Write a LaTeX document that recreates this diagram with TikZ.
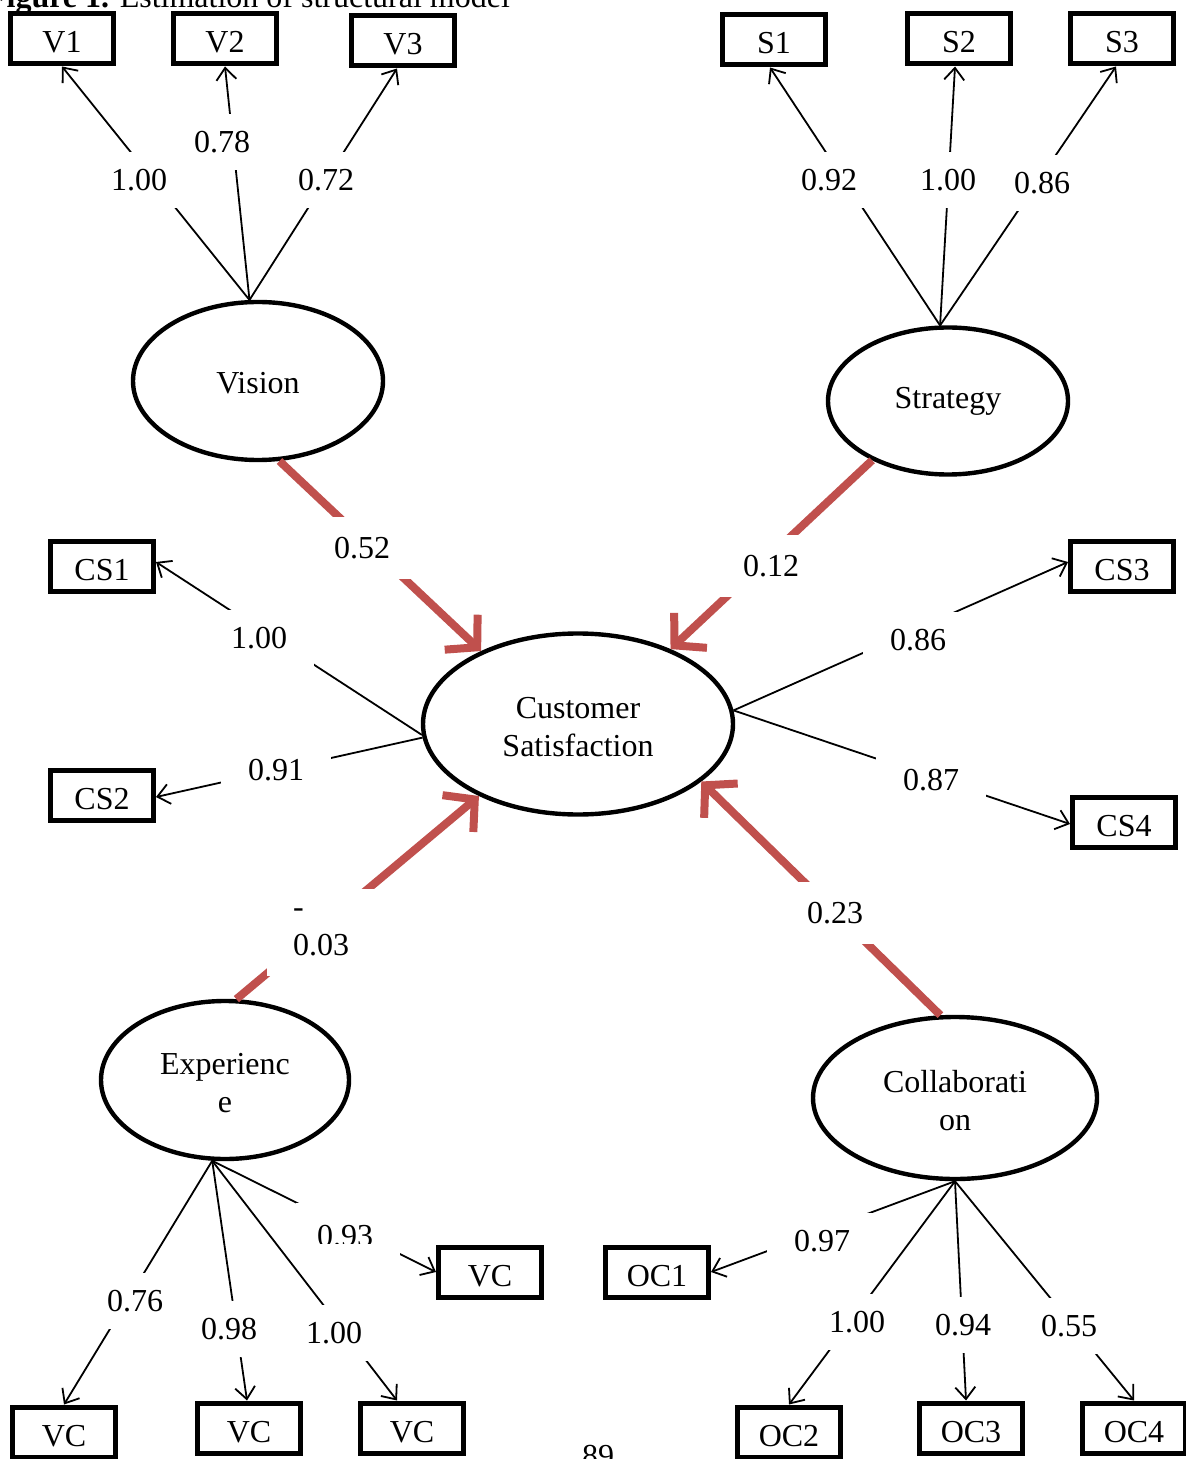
\documentclass[tikz,border=0pt]{standalone}
\usepackage{fontspec}
\setmainfont{Liberation Serif}
\usetikzlibrary{arrows.meta,shapes.geometric}
\definecolor{redarr}{RGB}{192,80,77}
\begin{document}
\begin{tikzpicture}[x=0.5pt,y=-0.5pt,font=\fontsize{16}{19}\selectfont]
\tikzset{
 obs/.style={draw, line width=2.5pt, minimum width=51.5pt, minimum height=25pt, inner sep=0pt, text depth=0pt, text height=14pt},
 lat/.style={draw, ellipse, line width=2.2pt, inner sep=0pt, align=center},
 ld/.style={line width=0.9pt, -{Straight Barb[length=6pt,width=10pt]}},
 rarrow/.style={draw=redarr, line width=4pt, -{Straight Barb[length=11pt,width=24pt]}},
 lbl/.style={fill=white, inner sep=0pt, minimum width=55pt, minimum height=28pt},
 rlbl/.style={lbl, minimum height=31pt},
}
\useasboundingbox (0,0) rectangle (1186,1459);
\clip (0,0) rectangle (1186,1459);

% title and page number (cut by the page edges)
\node[anchor=base east] (title) at (517,8) {\textbf{Figure 1.} Estimation of structural model};
\node[anchor=base] (pg) at (598,1466) {89};

% latent variables
\node[lat, minimum width=125pt, minimum height=79pt] (vis) at (258,381) {};
\node (tvis) at (258,383) {Vision};
\node[lat, minimum width=120pt, minimum height=73.5pt] (str) at (948,401) {};
\node[text depth=0pt] (tstr) at (948,398) {Strategy};
\node[lat, minimum width=155pt, minimum height=90.5pt] (cs) at (578,724) {};
\node[align=center] (tcs) at (578,727) {Customer\\Satisfaction};
\node[lat, minimum width=124pt, minimum height=79pt] (exp) at (225,1080) {};
\node[align=center] (texp) at (225,1083) {Experienc\\e};
\node[lat, minimum width=142pt, minimum height=81pt] (col) at (955,1098) {};
\node[align=center] (tcol) at (955,1101) {Collaborati\\on};

% observed variables
\node[obs] (v1) at (62,39) {V1};
\node[obs] (v2) at (225,39) {V2};
\node[obs] (v3) at (403,41) {V3};
\node[obs] (s1) at (774,40) {S1};
\node[obs] (s2) at (959,39) {S2};
\node[obs] (s3) at (1122,39) {S3};
\node[obs] (cs1) at (102,566) {CS1};
\node[obs] (cs2) at (102,795) {CS2};
\node[obs] (cs3) at (1122,566) {CS3};
\node[obs] (cs4) at (1124,822) {CS4};
\node[obs] (vcm) at (490,1272) {VC};
\node[obs] (oc1) at (657,1272) {OC1};
\node[obs] (vc1) at (64,1432) {VC};
\node[obs] (vc2) at (249,1428) {VC};
\node[obs] (vc3) at (412,1428) {VC};
\node[obs] (oc2) at (789,1432) {OC2};
\node[obs] (oc3) at (971,1428) {OC3};
\node[obs] (oc4) at (1134,1428) {OC4};

% loadings
\draw[ld] (vis.96) -- (v1.south);
\draw[ld] (vis.96) -- (v2.south);
\draw[ld] (vis.96) -- ([xshift=-3pt]v3.south);
\draw[ld] (str.96) -- ([xshift=-2pt]s1.south);
\draw[ld] (str.96) -- ([xshift=-2pt]s2.south);
\draw[ld] (str.96) -- ([xshift=-3pt]s3.south);
\draw[ld] (cs.184) -- ([yshift=2pt]cs1.east);
\draw[ld] (cs.185) -- ([yshift=-1pt]cs2.east);
\draw[ld] (cs.5) -- ([yshift=2pt]cs3.west);
\draw[ld] (cs.5) -- ([yshift=-1pt]cs4.west);
\draw[ld] (exp.261) -- (vc1.north);
\draw[ld] (exp.261) -- ([xshift=-1pt]vc2.north);
\draw[ld] (exp.261) -- ([xshift=-7.5pt]vc3.north);
\draw[ld] (exp.261) -- (vcm.west);
\draw[ld] (col.south) -- (oc1.east);
\draw[ld] (col.south) -- (oc2.north);
\draw[ld] (col.south) -- ([xshift=-2.5pt]oc3.north);
\draw[ld] (col.south) -- (oc4.north);

% structural paths
\draw[rarrow] (vis.-75) -- (cs.143.5);
\draw[rarrow] (str.218) -- (cs.39);
\draw[rarrow] (exp.82) -- (cs.216);
\draw[rarrow] (col.100) -- (cs.-25);

% labels
\node[lbl] (l1) at (139,180) {1.00};
\node[lbl] (l2) at (222,142) {0.78};
\node[lbl] (l3) at (326,180) {0.72};
\node[lbl] (l4) at (829,180) {0.92};
\node[lbl] (l5) at (948,180) {1.00};
\node[lbl] (l6) at (1042,183) {0.86};
\node[lbl] (l7) at (259,638) {1.00};
\node[lbl] (l8) at (276,770) {0.91};
\node[lbl] (l9) at (918,640) {0.86};
\node[lbl] (l10) at (931,780) {0.87};
\node[lbl] (l11) at (135,1301) {0.76};
\node[lbl] (l12) at (229,1329) {0.98};
\node[lbl] (l13) at (334,1333) {1.00};
\node[lbl] (l14) at (822,1241) {0.97};
\node[lbl] (l15) at (857,1322) {1.00};
\node[lbl] (l16) at (963,1325) {0.94};
\node[lbl] (l17) at (1069,1326) {0.55};
\node[rlbl] (r1) at (362,548) {0.52};
\node[rlbl] (r2) at (771,566) {0.12};
\node[rlbl] (r4) at (835,913) {0.23};
\node[fill=white, inner sep=0pt, minimum width=54pt, minimum height=43.5pt, align=left] (r3) at (321,932) {-\\0.03};
\fill[white] (296,1203) rectangle (400,1256);
\begin{scope}
\clip (290,1200) rectangle (410,1243);
\node (l18) at (345,1236) {0.93};
\end{scope}
\end{tikzpicture}
\end{document}
